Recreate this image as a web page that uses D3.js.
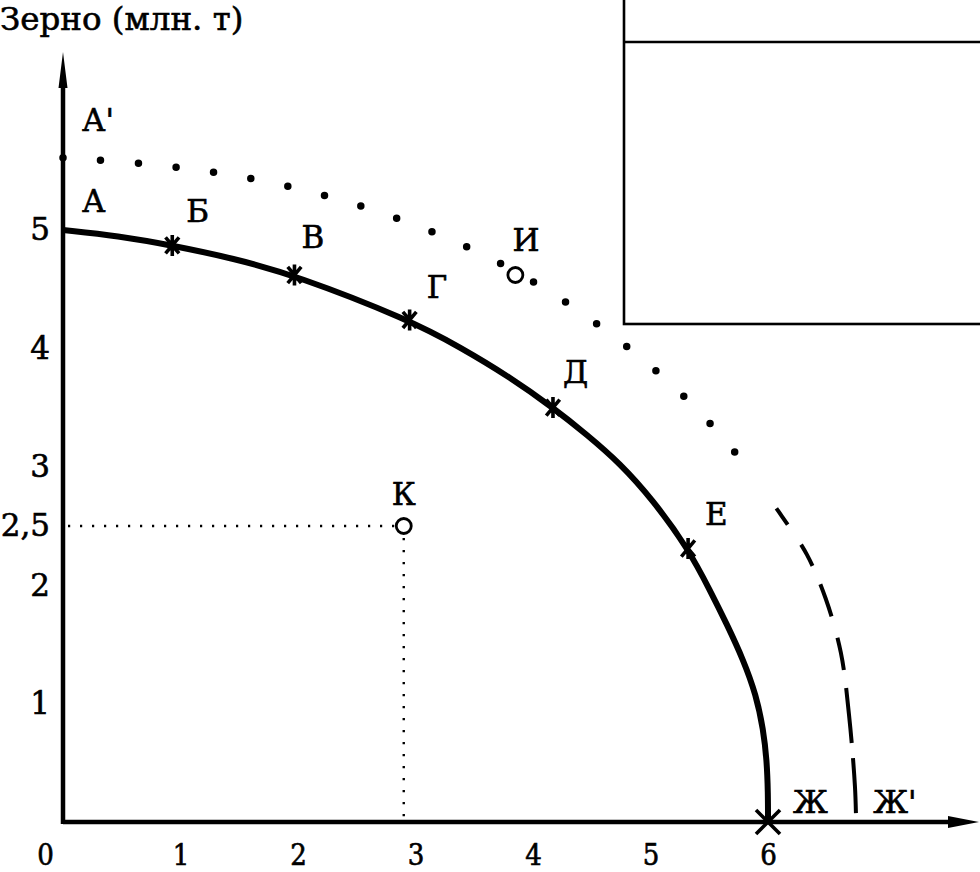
<!DOCTYPE html>
<html><head><meta charset="utf-8">
<script src="https://cdn.jsdelivr.net/npm/d3@7"></script>
<style>body{margin:0;background:#fff}svg{display:block}</style>
</head><body>
<svg id="c" width="980" height="872"></svg>
<script>
// ---- data ----
const titleText = "Зерно (млн. т)";
const xTicks = [0, 1, 2, 3, 4, 5, 6];
const xTickLabels = ["0", "1", "2", "3", "4", "5", "6"];
const yTicks = [1, 2, 2.5, 3, 4, 5];
const yTickLabels = ["1", "2", "2,5", "3", "4", "5"];

// labelled points on the production possibility frontier
const pointNames = ["А", "Б", "В", "Г", "Д", "Е", "Ж"];
const pointX = [0, 0.93, 1.97, 2.95, 4.17, 5.32, 6];
const pointY = [5, 4.87, 4.62, 4.24, 3.50, 2.31, 0];

// traced positions along the solid frontier (incl. the labelled points)
const frontierX = [0, 0.47, 0.93, 1.45, 1.97, 2.95, 3.38, 3.80, 4.17, 4.46, 4.74, 5.02, 5.32, 5.51, 5.65, 5.79, 5.90, 5.96, 5.99, 6.0, 6.0];
const frontierY = [5, 4.95, 4.87, 4.76, 4.62, 4.24, 4.01, 3.76, 3.50, 3.27, 3.03, 2.72, 2.31, 1.95, 1.67, 1.37, 1.07, 0.78, 0.52, 0.24, 0];

// traced positions along the shifted (dotted) frontier А'–Ж'
const outerX = [0, 0.97, 1.91, 2.84, 3.72, 4.54, 5.28, 5.72, 5.91];
const outerY = [5.61, 5.53, 5.37, 5.10, 4.72, 4.21, 3.60, 3.12, 2.87];
const outerLowX = [5.91, 6.12, 6.33, 6.49, 6.62, 6.69, 6.74, 6.75];
const outerLowY = [2.87, 2.58, 2.26, 1.89, 1.43, 0.90, 0.30, 0];
const outerNames = ["А'", "Ж'"];

// single points
const extraNames = ["И", "К"];
const extraX = [3.85, 2.9];
const extraY = [4.62, 2.5];

// ---- drawing ----
const svg = d3.select("#c");
const x = d3.scaleLinear().domain([0, 6]).range([63, 768]);
const y = d3.scaleLinear().domain([0, 5]).range([822, 230]);
const FONT = "'DejaVu Serif', serif";
const FONTC = "'DejaVu Serif Condensed', 'DejaVu Serif', serif";

const heavy = sel => sel.attr("fill", "#000").attr("stroke", "#000").attr("stroke-width", 0.6);

// box in the top-right corner
svg.append("rect").attr("x", 624).attr("y", -10).attr("width", 400).attr("height", 334)
  .attr("fill", "none").attr("stroke", "#000").attr("stroke-width", 2.6);
svg.append("line").attr("x1", 624).attr("x2", 990).attr("y1", 42).attr("y2", 42)
  .attr("stroke", "#000").attr("stroke-width", 2.6);

// title
heavy(svg.append("text").attr("x", 0).attr("y", 30).text(titleText)
  .attr("font-family", FONT).attr("font-size", 32.5));

// axes using d3 axis generators for the labels
const xAxis = svg.append("g").attr("transform", `translate(0,${y(0)})`)
  .call(d3.axisBottom(x).tickValues(xTicks).tickSize(0).tickPadding(22)
        .tickFormat((d, i) => xTickLabels[i]));
xAxis.select(".domain").remove();
heavy(xAxis.selectAll("text").attr("font-family", FONTC).attr("font-size", 29)
  .attr("dx", d => d === 0 ? -18 : 0));

const yAxis = svg.append("g").attr("transform", `translate(${x(0)},0)`)
  .call(d3.axisLeft(y).tickValues(yTicks).tickSize(0).tickPadding(13)
        .tickFormat((d, i) => yTickLabels[i]));
yAxis.select(".domain").remove();
heavy(yAxis.selectAll("text").attr("font-family", FONT).attr("font-size", 31));

// axis lines with arrows
svg.append("line").attr("x1", x(0)).attr("y1", y(0)).attr("x2", 955).attr("y2", y(0))
  .attr("stroke", "#000").attr("stroke-width", 4.5);
svg.append("path").attr("d", `M979,${y(0)} L948,${y(0) - 6} L948,${y(0) + 6} Z`).attr("fill", "#000");
svg.append("line").attr("x1", x(0)).attr("y1", y(0) + 2).attr("x2", x(0)).attr("y2", 80)
  .attr("stroke", "#000").attr("stroke-width", 4.5);
svg.append("path").attr("d", `M${x(0)},52 L${x(0) - 4.5},88 L${x(0) + 4.5},88 Z`).attr("fill", "#000");

// K guide lines
const kx = x(extraX[1]), ky = y(extraY[1]);
svg.append("path").attr("d", `M${x(0) + 5},${ky} H${kx}`)
  .attr("stroke", "#000").attr("stroke-width", 2.4).attr("stroke-dasharray", "2.2 9.8").attr("fill", "none");
svg.append("path").attr("d", `M${kx},${ky} V${y(0)}`)
  .attr("stroke", "#000").attr("stroke-width", 2.4).attr("stroke-dasharray", "2.2 9.8").attr("fill", "none");

const line = d3.line().x(d => x(d[0])).y(d => y(d[1])).curve(d3.curveCatmullRom.alpha(0.5));
const smooth = d3.line().x(d => x(d[0])).y(d => y(d[1])).curve(d3.curveBasis);

// dotted outer frontier (upper part: dots)
const up = svg.append("path").datum(outerX.map((v, i) => [v, outerY[i]]))
  .attr("d", line).attr("fill", "none").attr("stroke", "#000").attr("stroke-width", 7.5)
  .attr("stroke-linecap", "round");
{
  const L = up.node().getTotalLength();
  const n = Math.round(L / 37);
  up.attr("stroke-dasharray", `0 ${L / n}`);
}
// lower part: lengthening dashes
const low = svg.append("path").datum(outerLowX.map((v, i) => [v, outerLowY[i]]))
  .attr("d", line).attr("fill", "none").attr("stroke", "#000").attr("stroke-width", 4)
  .attr("stroke-linecap", "butt");
{
  const L = low.node().getTotalLength();
  const pat = [0, 32, 20, 24, 24, 20, 34, 22, 33, 18, 55, 15, 55, 9];
  const s = pat.reduce((a, b) => a + b, 0);
  low.attr("stroke-dasharray", pat.map(v => (v * L / s).toFixed(2)).join(" "));
}

// solid frontier
svg.append("path").datum(frontierX.map((v, i) => [v, frontierY[i]]))
  .attr("d", smooth).attr("fill", "none").attr("stroke", "#000").attr("stroke-width", 6)
  .attr("stroke-linejoin", "round");

// asterisk / cross markers
pointX.forEach((v, i) => {
  if (i === 0) return;
  const cx = x(v), cy = y(pointY[i]);
  let d;
  if (i === 6) {
    const s = 12;
    d = `M${cx - s},${cy - s} L${cx + s},${cy + s} M${cx - s},${cy + s} L${cx + s},${cy - s}`;
  } else {
    const r = 10.5, a = 50 * Math.PI / 180;
    const dx = r * Math.cos(a), dy = r * Math.sin(a);
    d = `M${cx - dx},${cy - dy} L${cx + dx},${cy + dy} M${cx - dx},${cy + dy} L${cx + dx},${cy - dy} M${cx},${cy - r} L${cx},${cy + r}`;
  }
  svg.append("path").attr("d", d).attr("stroke", "#000").attr("stroke-width", 3.6).attr("fill", "none");
});

// open circles
extraX.forEach((v, i) => {
  svg.append("circle").attr("cx", x(v)).attr("cy", y(extraY[i])).attr("r", 7.5)
    .attr("fill", "#fff").attr("stroke", "#000").attr("stroke-width", 2.8);
});

// letter labels
const lab = (t, px, py, anchor) => heavy(svg.append("text").attr("x", px).attr("y", py).text(t)
  .attr("font-family", FONT).attr("font-size", 31)
  .attr("text-anchor", anchor || "start"));
const pOff = [[19, -18], [14, -23], [7, -27], [17, -22], [10, -25], [17, -23], [25, -9]];
pointNames.forEach((n, i) => lab(n, x(pointX[i]) + pOff[i][0], y(pointY[i]) + pOff[i][1]));
lab(outerNames[0], x(outerX[0]) + 19, y(outerY[0]) - 27);
lab(outerNames[1], x(outerLowX[outerLowX.length - 1]) + 17, y(0) - 9);
lab(extraNames[0], x(extraX[0]) - 3, y(extraY[0]) - 24);
lab(extraNames[1], x(extraX[1]), y(extraY[1]) - 21, "middle");
</script>
</body></html>
